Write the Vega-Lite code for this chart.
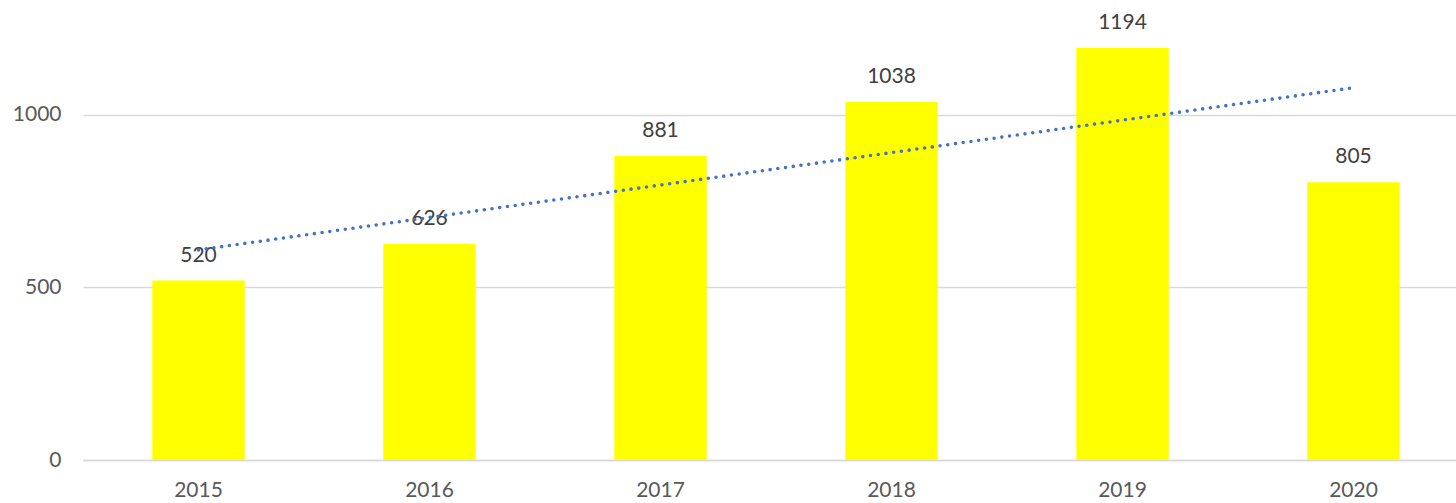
{
  "$schema": "https://vega.github.io/schema/vega-lite/v6.json",
  "autosize": {"type": "none"},
  "width": 1386,
  "height": 460,
  "padding": {"left": 83, "top": 0, "right": 0, "bottom": 43},
  "background": "white",
  "config": {
    "view": {"stroke": null},
    "font": "Lato"
  },
  "datasets": {
    "counts": [
      {"year": 2015, "count": 520},
      {"year": 2016, "count": 626},
      {"year": 2017, "count": 881},
      {"year": 2018, "count": 1038},
      {"year": 2019, "count": 1194},
      {"year": 2020, "count": 805}
    ],
    "trend": [
      {"year": 2015, "count": 609},
      {"year": 2020, "count": 1079}
    ]
  },
  "encoding": {
    "x": {
      "field": "year",
      "type": "ordinal",
      "scale": {"paddingInner": 0.6, "paddingOuter": 0.3},
      "axis": {
        "title": null,
        "labelAngle": 0,
        "ticks": false,
        "domain": true,
        "domainColor": "#d9d9d9",
        "domainWidth": 1.5,
        "labelFont": "Lato",
        "labelFontSize": 21,
        "labelColor": "#595959",
        "labelPadding": 19,
        "grid": false
      }
    },
    "y": {
      "field": "count",
      "type": "quantitative",
      "scale": {"domain": [0, 1333.33], "nice": false},
      "axis": {
        "title": null,
        "values": [0, 500, 1000],
        "format": "d",
        "ticks": false,
        "domain": false,
        "grid": true,
        "gridColor": "#d9d9d9",
        "gridWidth": 1.5,
        "labelFont": "Lato",
        "labelFontSize": 21,
        "labelColor": "#595959",
        "labelPadding": 22
      }
    }
  },
  "layer": [
    {
      "data": {"name": "counts"},
      "mark": {"type": "bar", "color": "#ffff00"}
    },
    {
      "data": {"name": "counts"},
      "mark": {"type": "text", "baseline": "alphabetic", "dy": -19, "fontSize": 21, "font": "Lato", "color": "#404040"},
      "encoding": {"text": {"field": "count", "type": "quantitative"}}
    },
    {
      "data": {"name": "trend"},
      "mark": {"type": "line", "color": "#4472c4", "strokeWidth": 3.6, "strokeDash": [0, 7.8], "strokeCap": "round"}
    }
  ]
}
